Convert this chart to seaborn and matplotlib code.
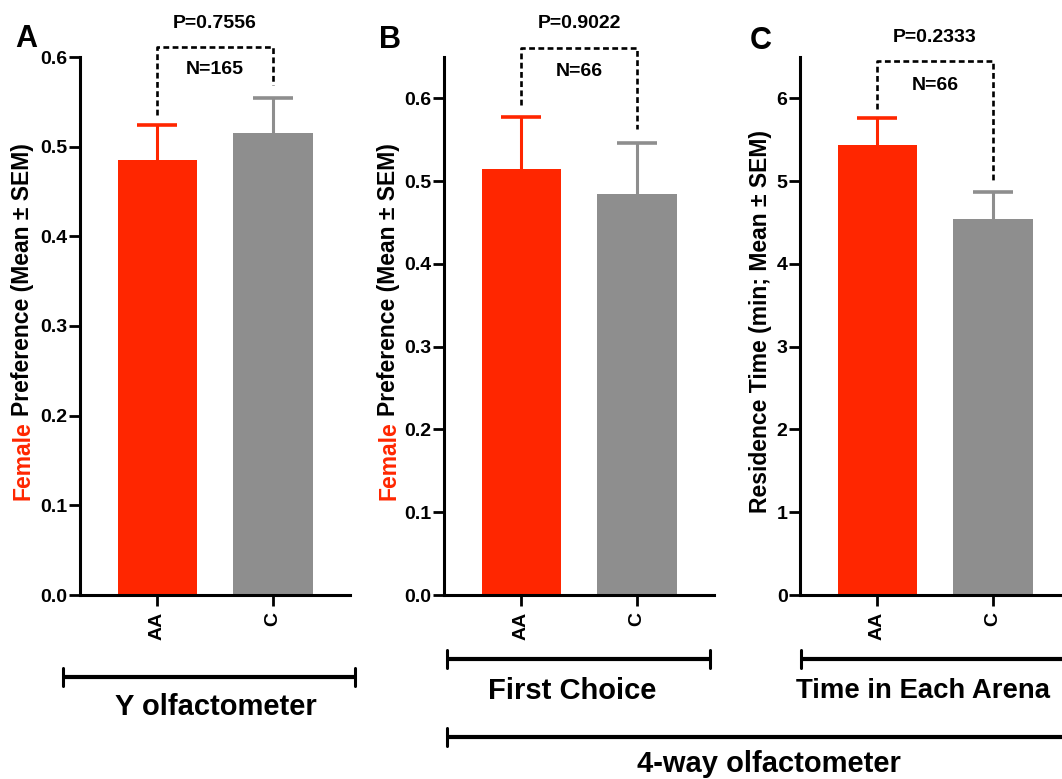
import matplotlib
matplotlib.use("Agg")
import matplotlib.pyplot as plt
import seaborn as sns
import pandas as pd
from matplotlib.lines import Line2D
from matplotlib.transforms import blended_transform_factory

# ---------------- data ----------------
groups = ["AA", "C"]

a_means = [0.485, 0.515]
a_sems = [0.039, 0.039]
a_p = "P=0.7556"
a_n = "N=165"

b_means = [0.515, 0.484]
b_sems = [0.062, 0.062]
b_p = "P=0.9022"
b_n = "N=66"

c_means = [5.44, 4.54]
c_sems = [0.32, 0.33]
c_p = "P=0.2333"
c_n = "N=66"

pref_ticks = [0.0, 0.1, 0.2, 0.3, 0.4, 0.5, 0.6]
pref_labels = ["0.0", "0.1", "0.2", "0.3", "0.4", "0.5", "0.6"]
time_ticks = [0, 1, 2, 3, 4, 5, 6]
time_labels = ["0", "1", "2", "3", "4", "5", "6"]

# ---------------- style ----------------
sns.set_style("ticks")
plt.rcParams["font.family"] = ["Liberation Sans", "DejaVu Sans"]
plt.rcParams["axes.unicode_minus"] = False
for key in ["text.color", "axes.labelcolor", "xtick.color", "ytick.color",
            "axes.edgecolor"]:
    plt.rcParams[key] = "black"

RED = "#FF2600"
GRAY = "#8E8E8E"
W, H = 1062, 779
fig = plt.figure(figsize=(W / 100, H / 100), dpi=100)


def fx(px):
    return px / W


def fy(py):
    return 1 - py / H


AX_BOTTOM, AX_TOP, AX_W = 595, 57, 270

panels = [
    dict(letter="A", left=80, means=a_means, sems=a_sems, ymax=0.6,
         ticks=pref_ticks, labels=pref_labels, p=a_p, n=a_n,
         br_top=0.611, br_l=0.535, br_r=0.569, p_y=23, n_y=70,
         letter_xy=(26, 39), ylab_x=23, ylab_bottom=500, two_color=True),
    dict(letter="B", left=444, means=b_means, sems=b_sems, ymax=0.65,
         ticks=pref_ticks, labels=pref_labels, p=b_p, n=b_n,
         br_top=0.661, br_l=0.592, br_r=0.563, p_y=23, n_y=72,
         letter_xy=(390, 40), ylab_x=389, ylab_bottom=500, two_color=True),
    dict(letter="C", left=800, means=c_means, sems=c_sems, ymax=6.5,
         ticks=time_ticks, labels=time_labels, p=c_p, n=c_n,
         br_top=6.45, br_l=5.87, br_r=4.98, p_y=37, n_y=85,
         letter_xy=(761, 41), ylab_x=760, ylab_bottom=515, two_color=False),
]

label_texts = []
for pn in panels:
    ax = fig.add_axes([fx(pn["left"]), fy(AX_BOTTOM), fx(AX_W),
                       (AX_BOTTOM - AX_TOP) / H])
    df = pd.DataFrame({"group": groups, "value": pn["means"]})
    sns.barplot(data=df, x="group", y="value", hue="group", order=groups,
                hue_order=groups, palette=[RED, GRAY], saturation=1,
                width=0.69, errorbar=None, legend=False, ax=ax, linewidth=0)
    for i, (m, s, c) in enumerate(zip(pn["means"], pn["sems"], [RED, GRAY])):
        ax.errorbar(i, m, yerr=[[0], [s]], fmt="none", ecolor=c,
                    elinewidth=2.2, capsize=0, zorder=3)
        ax.plot([i], [m + s], marker="_", ms=28.8, mew=2.6, color=c,
                zorder=3, clip_on=False)
    ax.set_xlim(-0.67, 1.67)
    ax.set_ylim(0, pn["ymax"])
    ax.set_yticks(pn["ticks"])
    ax.set_yticklabels(pn["labels"], fontsize=14, fontweight="bold")
    ax.set_xticks([0, 1])
    ax.set_xticklabels(groups, rotation=90, fontsize=14, fontweight="bold")
    ax.tick_params(axis="both", width=2, length=8, color="black",
                   labelcolor="black", direction="out")
    ax.tick_params(axis="y", pad=1)
    ax.tick_params(axis="x", pad=4)
    ax.set_xlabel("")
    ax.set_ylabel("")
    sns.despine(ax=ax)
    for sp in ["left", "bottom"]:
        ax.spines[sp].set_linewidth(2.2)
        ax.spines[sp].set_color("black")

    # significance bracket
    ax.plot([0, 0, 1, 1], [pn["br_l"], pn["br_top"], pn["br_top"], pn["br_r"]],
            color="black", lw=1.9, ls=(0, (2.2, 1.3)), clip_on=False, zorder=4)
    tr = blended_transform_factory(ax.transData, fig.transFigure)
    ax.text(0.5, fy(pn["p_y"]), pn["p"], transform=tr, ha="center",
            va="center", fontsize=14, fontweight="bold", color="black")
    ax.text(0.5, fy(pn["n_y"]), pn["n"], transform=tr, ha="center",
            va="center", fontsize=14, fontweight="bold", color="black")

    # panel letter
    fig.text(fx(pn["letter_xy"][0]), fy(pn["letter_xy"][1]), pn["letter"],
             ha="center", va="center", fontsize=22, fontweight="bold",
             color="black")

    # y label
    if pn["two_color"]:
        t1 = fig.text(fx(pn["ylab_x"]), fy(pn["ylab_bottom"]), "Female",
                      rotation=90, ha="center", va="bottom", color=RED,
                      fontsize=16.5, fontweight="bold")
        label_texts.append((t1, pn["ylab_x"]))
    else:
        fig.text(fx(pn["ylab_x"]), fy((pn["ylab_bottom"] + 128) / 2),
                 "Residence Time (min; Mean \u00b1 SEM)", rotation=90,
                 ha="center", va="center", fontsize=16.5, fontweight="bold",
                 color="black")

# second part of two-colour labels
fig.canvas.draw()
renderer = fig.canvas.get_renderer()
for t1, xpx in label_texts:
    bb = t1.get_window_extent(renderer)
    fig.text(fx(xpx), (bb.y1 + 5) / fig.bbox.height,
             "Preference (Mean \u00b1 SEM)", rotation=90, ha="center",
             va="bottom", color="black", fontsize=16.5, fontweight="bold")


# group brackets below the axes
def hbracket(x0, x1, y, left_tick=True, right_tick=True):
    fig.add_artist(Line2D([fx(x0), fx(x1)], [fy(y), fy(y)], color="black",
                          lw=3, transform=fig.transFigure, solid_capstyle="butt"))
    if left_tick:
        fig.add_artist(Line2D([fx(x0), fx(x0)], [fy(y - 9), fy(y + 9)],
                              color="black", lw=2.2, transform=fig.transFigure))
    if right_tick:
        fig.add_artist(Line2D([fx(x1), fx(x1)], [fy(y - 9), fy(y + 9)],
                              color="black", lw=2.2, transform=fig.transFigure))


hbracket(63, 355, 677)
hbracket(447, 710, 659)
hbracket(801, 1080, 659, right_tick=False)
hbracket(447, 1080, 737, right_tick=False)

fig.text(fx(216), fy(707), "Y olfactometer", ha="center", va="center",
         fontsize=21, fontweight="bold", color="black")
fig.text(fx(572), fy(691), "First Choice", ha="center", va="center",
         fontsize=21, fontweight="bold", color="black")
fig.text(fx(796), fy(691), "Time in Each Arena", ha="left", va="center",
         fontsize=19.8, fontweight="bold", color="black")
fig.text(fx(769), fy(764), "4-way olfactometer", ha="center", va="center",
         fontsize=21, fontweight="bold", color="black")

fig.savefig("out.png", dpi=100)
